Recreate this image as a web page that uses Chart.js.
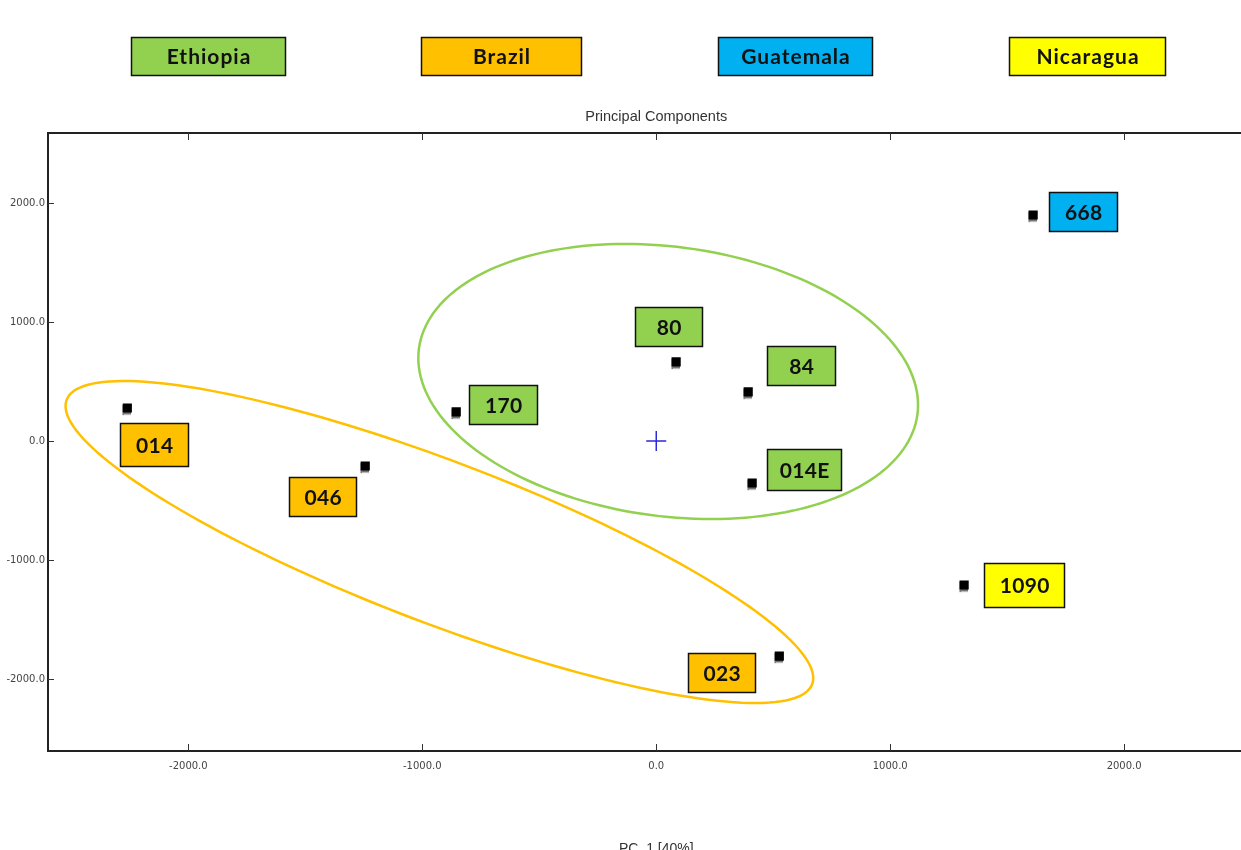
<!DOCTYPE html>
<html>
<head>
<meta charset="utf-8">
<title>Principal Components</title>
<script src="https://cdn.jsdelivr.net/npm/chart.js@4.4.1/dist/chart.umd.min.js"></script>
<style>
html, body { margin: 0; padding: 0; background: #fff; overflow: hidden; }
.chart-wrap { position: relative; width: 1276px; height: 862px; }
</style>
</head>
<body>
<div class="chart-wrap"><canvas class="chart-1"></canvas></div>
<script>
const countries = ['Ethiopia', 'Brazil', 'Guatemala', 'Nicaragua'];
const countryColors = ['#92D050', '#FFC000', '#00B0F0', '#FFFF00'];

const sampleNames = ['014', '046', '023', '170', '80', '84', '014E', '668', '1090'];
const sampleOrigin = ['Brazil', 'Brazil', 'Brazil', 'Ethiopia', 'Ethiopia', 'Ethiopia', 'Ethiopia', 'Guatemala', 'Nicaragua'];
const pc1 = [-2261, -1244, 526, -855, 85, 393, 410, 1611, 1316];
const pc2 = [277, -210, -1807, 244, 664, 412, -353, 1899, -1210];

const centroidPC1 = [0];
const centroidPC2 = [0];

// confidence ellipses: centre and two conjugate half axes, in PC units
const ellipseGroups = ['Ethiopia', 'Brazil'];
const ellipseCenterX = [51, -927];
const ellipseCenterY = [500, -849];
const ellipseAxisA = [[1068, -197], [1598, -1143]];
const ellipseAxisB = [[0, 1139], [0, 724]];

const xTickValues = [-2000, -1000, 0, 1000, 2000];
const yTickValues = [-2000, -1000, 0, 1000, 2000];

// label box placement next to each point: [dx, dy, width, height] in px
const labelBoxes = [
    [-7, 15, 68, 43], [-76, 11, 67, 39], [-91, -3, 67, 39],
    [13, -27, 68, 39], [-41, -55, 67, 39], [19, -46, 68, 39], [15, -34, 74, 41],
    [16, -23, 68, 39], [20, -22, 80, 44]
];
const legendLeft = [131, 421, 718, 1009];
const legendWidth = [154, 160, 154, 156];

function colorOf(country) {
    return countryColors[countries.indexOf(country)];
}

function drawBox(ctx, x, y, w, h, fill, text, spacing) {
    ctx.fillStyle = fill;
    ctx.fillRect(x, y, w, h);
    ctx.lineWidth = 1.5;
    ctx.strokeStyle = '#111';
    ctx.strokeRect(x, y, w, h);
    ctx.fillStyle = '#111';
    ctx.font = 'bold 21px Lato';
    ctx.letterSpacing = spacing + 'px';
    ctx.textAlign = 'center';
    ctx.textBaseline = 'middle';
    ctx.fillText(text, x + w / 2 + spacing / 2, y + h / 2 + 1);
    ctx.letterSpacing = '0px';
}

const pcaDecor = {
    id: 'pcaDecor',
    beforeDatasetsDraw(chart) {
        const {ctx, scales: {x, y}} = chart;
        ctx.save();
        ctx.lineWidth = 2.5;
        for (let g = 0; g < ellipseGroups.length; g++) {
            ctx.strokeStyle = colorOf(ellipseGroups[g]);
            ctx.beginPath();
            for (let s = 0; s <= 180; s++) {
                const t = s / 180 * Math.PI * 2;
                const vx = ellipseCenterX[g] + ellipseAxisA[g][0] * Math.cos(t) + ellipseAxisB[g][0] * Math.sin(t);
                const vy = ellipseCenterY[g] + ellipseAxisA[g][1] * Math.cos(t) + ellipseAxisB[g][1] * Math.sin(t);
                const px = x.getPixelForValue(vx);
                const py = y.getPixelForValue(vy);
                if (s === 0) ctx.moveTo(px, py); else ctx.lineTo(px, py);
            }
            ctx.closePath();
            ctx.stroke();
        }
        ctx.restore();
    },
    beforeDatasetDraw(chart, args) {
        if (args.index === 0) {
            const ctx = chart.ctx;
            ctx.save();
            ctx.shadowColor = 'rgba(0,0,0,0.55)';
            ctx.shadowOffsetX = -1;
            ctx.shadowOffsetY = 2;
            ctx.shadowBlur = 1;
        }
    },
    afterDatasetDraw(chart, args) {
        if (args.index === 0) chart.ctx.restore();
    },
    afterDatasetsDraw(chart) {
        const {ctx, chartArea: area, scales: {x, y}} = chart;
        ctx.save();

        // frame: top line and inward tick marks
        ctx.strokeStyle = '#222';
        ctx.lineWidth = 2;
        ctx.beginPath();
        ctx.moveTo(area.left, area.top);
        ctx.lineTo(area.right, area.top);
        ctx.lineTo(area.right, area.bottom);
        ctx.stroke();
        ctx.lineWidth = 1;
        ctx.strokeStyle = '#333';
        ctx.beginPath();
        xTickValues.forEach(v => {
            const px = Math.round(x.getPixelForValue(v)) + 0.5;
            ctx.moveTo(px, area.bottom); ctx.lineTo(px, area.bottom - 7);
            ctx.moveTo(px, area.top); ctx.lineTo(px, area.top + 7);
        });
        yTickValues.forEach(v => {
            const py = Math.round(y.getPixelForValue(v)) + 0.5;
            ctx.moveTo(area.left, py); ctx.lineTo(area.left + 6, py);
        });
        ctx.stroke();

        // sample labels
        const meta = chart.getDatasetMeta(0);
        meta.data.forEach((pt, i) => {
            const b = labelBoxes[i];
            drawBox(ctx, Math.round(pt.x + b[0]) + 0.5, Math.round(pt.y + b[1]) + 0.5, b[2], b[3], colorOf(sampleOrigin[i]), sampleNames[i], 0.3);
        });

        // title
        ctx.fillStyle = '#333';
        ctx.font = '14.5px "Liberation Sans"';
        ctx.textAlign = 'center';
        ctx.textBaseline = 'middle';
        ctx.fillText('Principal Components', (area.left + area.right) / 2, 117);

        // legend
        countries.forEach((c, i) => {
            drawBox(ctx, legendLeft[i] + 0.5, 37.5, legendWidth[i], 38, countryColors[i], c, 1);
        });
        ctx.restore();
    }
};

const chart1 = document.querySelector('.chart-1');

new Chart(chart1, {
    type: 'scatter',
    data: {
        datasets: [{
            label: 'Samples',
            data: pc1.map((v, i) => ({x: v, y: pc2[i]})),
            pointStyle: 'rect',
            pointRadius: 6.5,
            backgroundColor: '#000',
            borderColor: '#000',
            borderWidth: 0
        }, {
            label: 'Centroid',
            data: centroidPC1.map((v, i) => ({x: v, y: centroidPC2[i]})),
            pointStyle: 'cross',
            pointRadius: 10,
            borderColor: '#2a2ad8',
            borderWidth: 1.5
        }]
    },
    options: {
        responsive: true,
        maintainAspectRatio: false,
        animation: false,
        layout: {padding: {top: 133, right: 5, left: 0, bottom: 0}},
        plugins: {
            legend: {display: false},
            tooltip: {enabled: false},
            title: {display: false}
        },
        scales: {
            x: {
                type: 'linear',
                min: -2600,
                max: 2600,
                afterBuildTicks: s => { s.ticks = xTickValues.map(v => ({value: v})); },
                afterFit: s => { s.height = 111; },
                grid: {display: false, drawTicks: false},
                border: {display: true, color: '#222', width: 2},
                ticks: {
                    color: '#444',
                    padding: 9,
                    maxRotation: 0,
                    font: {family: 'DejaVu Sans', size: 10},
                    callback: v => v.toFixed(1)
                },
                title: {
                    display: true,
                    text: 'PC_1 [40%]',
                    color: '#333',
                    font: {family: 'Liberation Sans', size: 14}
                }
            },
            y: {
                type: 'linear',
                min: -2605,
                max: 2588,
                afterBuildTicks: s => { s.ticks = yTickValues.map(v => ({value: v})); },
                afterFit: s => { s.width = 48; },
                grid: {display: false, drawTicks: false},
                border: {display: true, color: '#222', width: 2},
                ticks: {
                    color: '#444',
                    padding: 3,
                    font: {family: 'DejaVu Sans', size: 10},
                    callback: v => v.toFixed(1)
                }
            }
        }
    },
    plugins: [pcaDecor]
});
</script>
</body>
</html>
